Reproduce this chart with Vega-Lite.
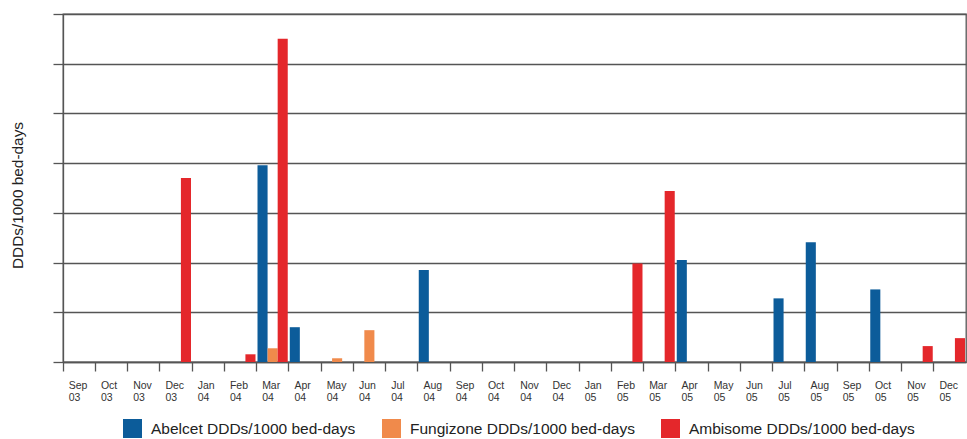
{
  "$schema": "https://vega.github.io/schema/vega-lite/v6.json",
  "width": 903,
  "height": 348,
  "autosize": {"type": "none"},
  "padding": {"left": 63, "top": 14, "right": 1, "bottom": 77},
  "background": "white",
  "config": {
    "font": "Liberation Sans",
    "view": {"stroke": "#555", "strokeWidth": 1.3}
  },
  "data": {
    "values": [
      {"month": "Mar 04", "drug": "Abelcet DDDs/1000 bed-days", "value": 3.96},
      {"month": "Apr 04", "drug": "Abelcet DDDs/1000 bed-days", "value": 0.70},
      {"month": "Aug 04", "drug": "Abelcet DDDs/1000 bed-days", "value": 1.85},
      {"month": "Apr 05", "drug": "Abelcet DDDs/1000 bed-days", "value": 2.05},
      {"month": "Jul 05", "drug": "Abelcet DDDs/1000 bed-days", "value": 1.28},
      {"month": "Aug 05", "drug": "Abelcet DDDs/1000 bed-days", "value": 2.41},
      {"month": "Oct 05", "drug": "Abelcet DDDs/1000 bed-days", "value": 1.46},
      {"month": "Mar 04", "drug": "Fungizone DDDs/1000 bed-days", "value": 0.276},
      {"month": "May 04", "drug": "Fungizone DDDs/1000 bed-days", "value": 0.075},
      {"month": "Jun 04", "drug": "Fungizone DDDs/1000 bed-days", "value": 0.64},
      {"month": "Dec 03", "drug": "Ambisome DDDs/1000 bed-days", "value": 3.70},
      {"month": "Feb 04", "drug": "Ambisome DDDs/1000 bed-days", "value": 0.155},
      {"month": "Mar 04", "drug": "Ambisome DDDs/1000 bed-days", "value": 6.50},
      {"month": "Feb 05", "drug": "Ambisome DDDs/1000 bed-days", "value": 1.98},
      {"month": "Mar 05", "drug": "Ambisome DDDs/1000 bed-days", "value": 3.44},
      {"month": "Nov 05", "drug": "Ambisome DDDs/1000 bed-days", "value": 0.32},
      {"month": "Dec 05", "drug": "Ambisome DDDs/1000 bed-days", "value": 0.48}
    ]
  },
  "mark": {"type": "bar"},
  "encoding": {
    "x": {
      "field": "month",
      "type": "nominal",
      "scale": {
        "domain": ["Sep 03","Oct 03","Nov 03","Dec 03","Jan 04","Feb 04","Mar 04","Apr 04","May 04","Jun 04","Jul 04","Aug 04","Sep 04","Oct 04","Nov 04","Dec 04","Jan 05","Feb 05","Mar 05","Apr 05","May 05","Jun 05","Jul 05","Aug 05","Sep 05","Oct 05","Nov 05","Dec 05"],
        "paddingInner": 0,
        "paddingOuter": 0
      },
      "axis": {
        "title": null,
        "bandPosition": 0,
        "grid": false,
        "ticks": true,
        "tickSize": 9,
        "tickColor": "#555",
        "tickWidth": 1.3,
        "domainColor": "#555",
        "domainWidth": 1.3,
        "labelAngle": 0,
        "labelAlign": "left",
        "labelOffset": -10.5,
        "labelBaseline": "top",
        "labelPadding": 9,
        "labelFontSize": 10.5,
        "labelColor": "#333",
        "labelLineHeight": 12.5,
        "labelOverlap": false,
        "labelFlush": false,
        "labelExpr": "split(datum.label, ' ')"
      }
    },
    "xOffset": {
      "field": "drug",
      "type": "nominal",
      "scale": {
        "domain": ["Abelcet DDDs/1000 bed-days", "Fungizone DDDs/1000 bed-days", "Ambisome DDDs/1000 bed-days"],
        "paddingInner": 0,
        "paddingOuter": 0.1
      }
    },
    "y": {
      "field": "value",
      "type": "quantitative",
      "scale": {"domain": [0, 7], "nice": false},
      "axis": {
        "title": "DDDs/1000 bed-days",
        "labels": false,
        "values": [0, 1, 2, 3, 4, 5, 6, 7],
        "grid": true,
        "gridColor": "#555",
        "gridWidth": 1.3,
        "tickSize": 10,
        "tickColor": "#555",
        "tickWidth": 1.3,
        "domainColor": "#555",
        "domainWidth": 1.3,
        "titleFontSize": 15.4,
        "titleFontWeight": "normal",
        "titleColor": "#222",
        "titleAngle": -90,
        "titleX": -41,
        "titleY": 181,
        "titleAlign": "center",
        "titleBaseline": "alphabetic"
      }
    },
    "color": {
      "field": "drug",
      "type": "nominal",
      "scale": {
        "domain": ["Abelcet DDDs/1000 bed-days", "Fungizone DDDs/1000 bed-days", "Ambisome DDDs/1000 bed-days"],
        "range": ["#0C5C9A", "#F08A4B", "#E4272B"]
      },
      "legend": {
        "orient": "none",
        "legendX": 60,
        "legendY": 405,
        "direction": "horizontal",
        "title": null,
        "symbolType": "square",
        "symbolSize": 361,
        "symbolStrokeWidth": 0,
        "labelFontSize": 15.5,
        "labelColor": "#222",
        "labelOffset": 9,
        "columnPadding": 26,
        "labelLimit": 400
      }
    }
  }
}
